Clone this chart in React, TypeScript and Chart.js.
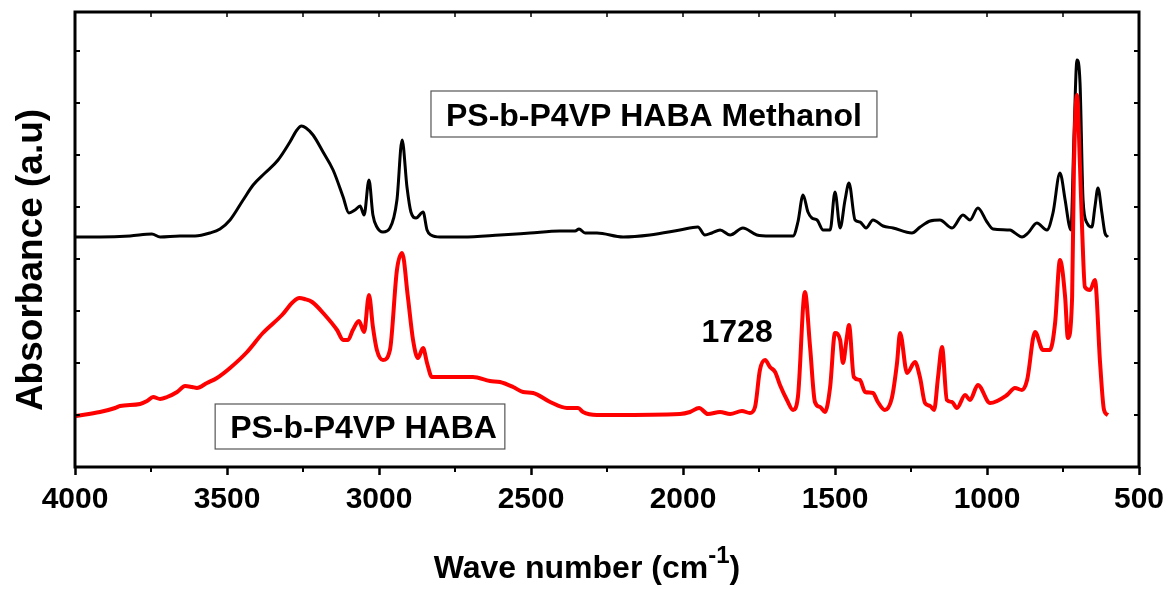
import React, { useEffect, useRef } from 'react';
import { Chart, registerables } from 'chart.js';

Chart.register(...registerables);

// PS-b-P4VP HABA Methanol (black, upper trace)
const methanolWavenumber = [
  4000, 3918, 3819, 3747, 3720, 3655, 3605, 3556, 3523, 3490, 3447, 3414, 3375, 3332, 3293, 3270, 3255, 3240,
  3217, 3184, 3151, 3118, 3099, 3079, 3062, 3049, 3033, 3020, 3007, 2987, 2964, 2941, 2924, 2908, 2895,
  2878, 2855, 2842, 2829, 2799, 2724, 2602, 2503, 2405, 2355, 2342, 2322, 2283, 2197, 2109, 2010, 1951,
  1928, 1905, 1878, 1845, 1803, 1757, 1714, 1681, 1638, 1622, 1605, 1589, 1576, 1559, 1539, 1516, 1500,
  1483, 1467, 1454, 1434, 1418, 1398, 1375, 1342, 1309, 1247, 1220, 1187, 1155, 1115, 1079, 1056, 1030,
  1000, 980, 924, 908, 885, 865, 836, 803, 783, 760, 743, 730, 724, 714, 704, 694, 684, 671, 655, 645,
  635, 622, 612, 602,
];
const methanolAbsorbance = [
  230, 230, 231, 233, 230, 231, 231, 234, 238, 247, 267, 282, 294, 307, 325, 337, 341, 339,
  332, 315, 297, 270, 254, 257, 261, 252, 287, 252, 240, 235, 239, 267, 327, 280, 255,
  249, 255, 237, 232, 230, 230, 232, 234, 236, 236, 238, 234, 234, 230, 232, 237, 240,
  232, 234, 237, 232, 239, 232, 231, 231, 231, 245, 272, 255, 249, 247, 237, 237, 275,
  239, 267, 284, 247, 245, 239, 247, 241, 239, 234, 240, 246, 247, 239, 252, 247, 259,
  245, 238, 237, 234, 230, 234, 244, 237, 254, 294, 267, 242, 237, 330, 407, 384, 267, 244, 240, 260,
  279, 254, 234, 230,
];

// PS-b-P4VP HABA (red, lower trace)
const habaWavenumber = [
  3997, 3918, 3868, 3852, 3786, 3763, 3743, 3720, 3697, 3664, 3638, 3615, 3599, 3566, 3533, 3490, 3434,
  3382, 3319, 3283, 3262, 3245, 3220, 3178, 3138, 3118, 3102, 3086, 3066, 3049, 3033, 3020, 3007, 2987,
  2964, 2941, 2924, 2905, 2888, 2872, 2855, 2842, 2826, 2776, 2691, 2635, 2602, 2559, 2526, 2493, 2437,
  2382, 2345, 2329, 2283, 2230, 2010, 1977, 1947, 1918, 1878, 1845, 1806, 1780, 1763, 1747, 1730, 1714,
  1697, 1681, 1658, 1638, 1622, 1599, 1582, 1566, 1549, 1533, 1516, 1500, 1483, 1474, 1461, 1454, 1438,
  1418, 1401, 1375, 1359, 1336, 1313, 1296, 1286, 1263, 1237, 1220, 1204, 1187, 1174, 1161, 1148, 1132,
  1115, 1099, 1072, 1056, 1030, 990, 934, 908, 885, 868, 842, 816, 793, 776, 760, 743, 734, 720, 714,
  704, 694, 687, 678, 661, 645, 628, 615, 602,
];
const habaAbsorbance = [
  51, 55, 59, 61, 63, 66, 70, 68, 70, 75, 81, 80, 79, 84, 89, 99, 115,
  134, 152, 165, 169, 168, 165, 152, 137, 127, 127, 137, 146, 135, 172, 140, 117, 107,
  117, 197, 214, 170, 127, 109, 119, 104, 90, 90, 90, 86, 85, 80, 75, 74, 65,
  59, 59, 55, 52, 52, 53, 55, 59, 53, 55, 53, 56, 54, 60, 97, 107, 100,
  95, 82, 67, 57, 70, 175, 120, 65, 60, 55, 80, 134, 127, 104, 130, 142, 90,
  87, 75, 74, 65, 57, 69, 104, 134, 94, 105, 89, 64, 61, 57, 90, 120, 67,
  65, 59, 72, 67, 82, 64, 72, 79, 77, 87, 135, 117, 117, 144, 207, 170, 129, 170, 300,
  372, 300, 237, 180, 177, 187, 104, 57, 52,
];

const xTickValues = [4000, 3500, 3000, 2500, 2000, 1500, 1000, 500];
const xMinorTickValues = [3750, 3250, 2750, 2250, 1750, 1250, 750];
const yTickValues = [52, 104, 156, 208, 260, 312, 364, 416];

const methanolLabel = 'PS-b-P4VP HABA Methanol';
const habaLabel = 'PS-b-P4VP HABA';
const peakLabel = '1728';
const xTitle = 'Wave number (cm';
const xTitleSup = '-1';
const yTitle = 'Absorbance (a.u)';

const FONT = '"Liberation Sans", Arial, sans-serif';

const decorPlugin = {
  id: 'decor',
  afterDraw(chart: any) {
    const { ctx, chartArea: a, scales } = chart;
    const x = scales.x;
    const y = scales.y;
    ctx.save();
    ctx.strokeStyle = '#000';
    // minor bottom ticks (outward)
    ctx.lineWidth = 2;
    for (const v of xMinorTickValues) {
      const px = x.getPixelForValue(v);
      ctx.beginPath();
      ctx.moveTo(px, a.bottom);
      ctx.lineTo(px, a.bottom + 5);
      ctx.stroke();
    }
    // top ticks (inward)
    ctx.lineWidth = 1.5;
    for (const v of [...xTickValues, ...xMinorTickValues]) {
      const px = x.getPixelForValue(v);
      ctx.beginPath();
      ctx.moveTo(px, a.top);
      ctx.lineTo(px, a.top + 5);
      ctx.stroke();
    }
    // left & right ticks
    ctx.lineWidth = 2;
    for (const v of yTickValues) {
      const py = y.getPixelForValue(v);
      ctx.beginPath();
      ctx.moveTo(a.left, py);
      ctx.lineTo(a.left + 5, py);
      ctx.moveTo(a.right - 5, py);
      ctx.lineTo(a.right, py);
      ctx.stroke();
    }
    // frame
    ctx.lineWidth = 3;
    ctx.strokeRect(a.left, a.top, a.right - a.left, a.bottom - a.top);

    // annotation boxes
    const drawBox = (wl: number, wr: number, vt: number, vb: number, text: string) => {
      const l = x.getPixelForValue(wl);
      const r = x.getPixelForValue(wr);
      const t = y.getPixelForValue(vt);
      const b = y.getPixelForValue(vb);
      ctx.fillStyle = '#fff';
      ctx.fillRect(l, t, r - l, b - t);
      ctx.strokeStyle = '#555';
      ctx.lineWidth = 1.2;
      ctx.strokeRect(l, t, r - l, b - t);
      ctx.fillStyle = '#000';
      ctx.font = `bold 32px ${FONT}`;
      ctx.textAlign = 'left';
      ctx.textBaseline = 'alphabetic';
      ctx.fillText(text, l + 15, (t + b) / 2 + 11.5);
    };
    drawBox(2829, 1362, 376, 330, methanolLabel);
    drawBox(3539, 2586, 63, 18, habaLabel);

    // peak label
    ctx.fillStyle = '#000';
    ctx.font = `bold 32px ${FONT}`;
    ctx.textAlign = 'center';
    ctx.textBaseline = 'alphabetic';
    ctx.fillText(peakLabel, x.getPixelForValue(1822), y.getPixelForValue(125));

    // x title with superscript
    ctx.font = `bold 32px ${FONT}`;
    const w1 = ctx.measureText(xTitle).width;
    const w3 = ctx.measureText(')').width;
    ctx.font = `bold 24px ${FONT}`;
    const w2 = ctx.measureText(xTitleSup).width;
    const total = w1 + w2 + w3;
    const cx = x.getPixelForValue(2316);
    const base = a.bottom + 111;
    let sx = cx - total / 2;
    ctx.textAlign = 'left';
    ctx.font = `bold 32px ${FONT}`;
    ctx.fillText(xTitle, sx, base);
    sx += w1;
    ctx.font = `bold 24px ${FONT}`;
    ctx.fillText(xTitleSup, sx, base - 15);
    sx += w2;
    ctx.font = `bold 32px ${FONT}`;
    ctx.fillText(')', sx, base);

    // y title
    ctx.save();
    ctx.translate(42, y.getPixelForValue(207));
    ctx.rotate(-Math.PI / 2);
    ctx.font = `bold 37px ${FONT}`;
    ctx.textAlign = 'center';
    ctx.textBaseline = 'alphabetic';
    ctx.fillText(yTitle, 0, 0);
    ctx.restore();

    ctx.restore();
  },
};

export default function App() {
  const ref = useRef<HTMLCanvasElement | null>(null);
  useEffect(() => {
    if (!ref.current) return;
    const chart = new Chart(ref.current, {
      type: 'line',
      data: {
        datasets: [
          {
            label: habaLabel,
            data: habaWavenumber.map((w, i) => ({ x: w, y: habaAbsorbance[i] })),
            borderColor: '#ff0000',
            borderWidth: 4,
            pointRadius: 0,
            fill: false,
            cubicInterpolationMode: 'monotone',
          },
          {
            label: methanolLabel,
            data: methanolWavenumber.map((w, i) => ({ x: w, y: methanolAbsorbance[i] })),
            borderColor: '#000000',
            borderWidth: 3,
            pointRadius: 0,
            fill: false,
            cubicInterpolationMode: 'monotone',
          },
        ],
      },
      options: {
        animation: false,
        responsive: false,
        events: [],
        layout: { padding: { left: 0, right: 29, top: 12, bottom: 0 }, autoPadding: false },
        plugins: { legend: { display: false }, tooltip: { enabled: false } },
        scales: {
          x: {
            type: 'linear',
            reverse: true,
            min: 500,
            max: 4000,
            afterFit: (s: any) => {
              s.height = 122;
              s.paddingLeft = 0;
              s.paddingRight = 0;
            },
            afterBuildTicks: (s: any) => {
              s.ticks = xTickValues.map((v) => ({ value: v }));
            },
            ticks: {
              autoSkip: false,
              maxRotation: 0,
              padding: 7,
              color: '#000',
              font: { family: FONT, size: 30, weight: 'bold' },
              callback: (v: any) => String(v),
            },
            grid: {
              drawOnChartArea: false,
              drawTicks: true,
              tickLength: 8,
              tickWidth: 2.5,
              tickColor: '#000',
            },
            border: { display: false },
          },
          y: {
            type: 'linear',
            min: 0,
            max: 455,
            afterFit: (s: any) => {
              s.width = 75;
            },
            ticks: { display: false },
            grid: { display: false },
            border: { display: false },
          },
        },
      },
      plugins: [decorPlugin],
    } as any);
    return () => chart.destroy();
  }, []);
  return (
    <div style={{ position: 'fixed', left: 0, top: 0, width: 1168, height: 589, background: '#fff' }}>
      <canvas ref={ref} width={1168} height={589} style={{ width: 1168, height: 589 }} />
    </div>
  );
}
